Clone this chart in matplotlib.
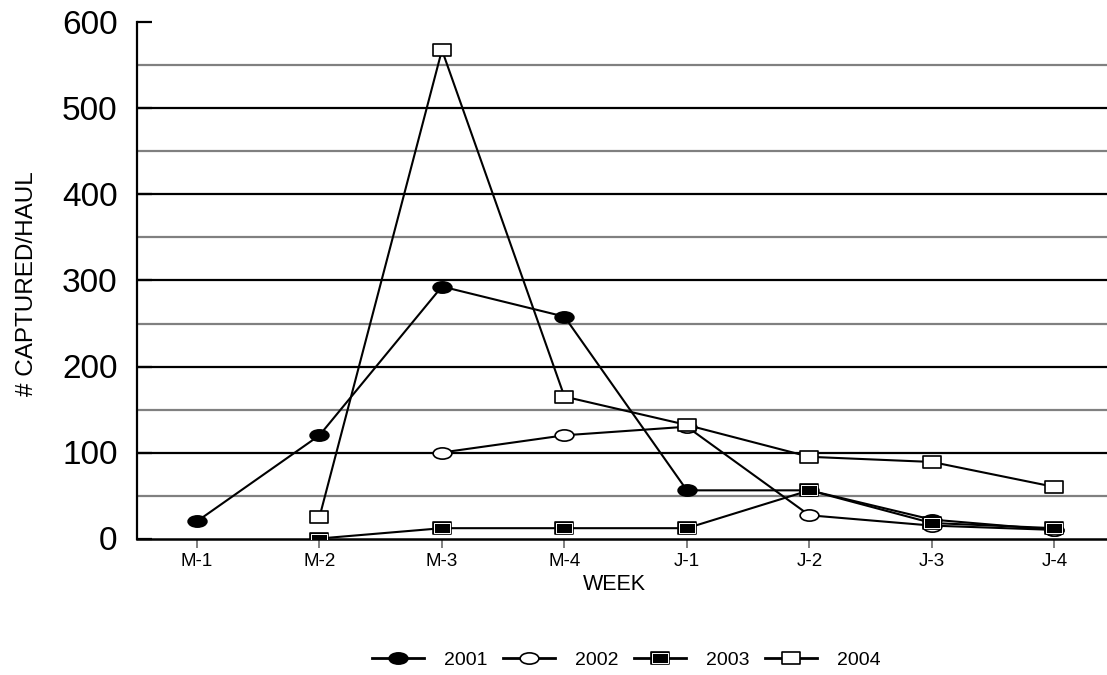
import matplotlib
matplotlib.use("Agg")
import matplotlib.pyplot as plt
import numpy as np
from matplotlib.path import Path
from matplotlib.transforms import Affine2D
from matplotlib.legend_handler import HandlerTuple

plt.rcParams['font.family'] = ['Liberation Sans', 'DejaVu Sans']

weeks = ["M-1", "M-2", "M-3", "M-4", "J-1", "J-2", "J-3", "J-4"]
y2001 = [20, 120, 293, 258, 56, 56, 22, 10]
y2002 = [np.nan, np.nan, 100, 120, 130, 27, 15, 10]
y2003 = [np.nan, 0, 12, 12, 12, 56, 18, 12]
y2004 = [np.nan, 25, 568, 165, 132, 95, 89, 60]

# wide ellipse and wide rectangle marker shapes
ellipse = Path.unit_circle().transformed(Affine2D().scale(1.0, 0.6))
rect = Path([(-1, -0.6), (1, -0.6), (1, 0.6), (-1, 0.6), (-1, -0.6)],
            [Path.MOVETO, Path.LINETO, Path.LINETO, Path.LINETO, Path.CLOSEPOLY])

fig = plt.figure(figsize=(11.07, 6.75), dpi=100)
ax = fig.add_axes([137/1107, 136.5/675, 1 - 137/1107, 516/675])

x = np.arange(len(weeks))

# grid lines
for v in [50, 150, 250, 350, 450, 550]:
    ax.axhline(v, color='#808080', lw=1.6, zorder=1)
for v in [100, 200, 300, 400, 500]:
    ax.axhline(v, color='black', lw=1.6, zorder=1)

lw = 1.5
ms = 13.5
h1, = ax.plot(x, y2001, color='black', lw=lw, marker=ellipse, ms=ms,
              mfc='black', mec='black', mew=1.2, zorder=3)
h2, = ax.plot(x, y2002, color='black', lw=lw, marker=ellipse, ms=ms,
              mfc='white', mec='black', mew=1.2, zorder=3)
h3, = ax.plot(x, y2003, color='black', lw=lw, marker=rect, ms=ms,
              mfc='black', mec='black', mew=1.2, zorder=3)
h3b, = ax.plot(x, y2003, color='none', lw=0, marker=rect, ms=ms - 2.2,
               mfc='none', mec='white', mew=0.7, zorder=4)
h4, = ax.plot(x, y2004, color='black', lw=lw, marker=rect, ms=ms,
              mfc='white', mec='black', mew=1.2, zorder=3)

ax.set_xlim(-0.49, 7.43)
ax.set_ylim(0, 600)
ax.set_xticks(x)
ax.set_xticklabels(weeks)
ax.set_yticks([0, 100, 200, 300, 400, 500, 600])
ax.tick_params(axis='y', direction='in', length=10.5, width=1.6, color='black',
               labelsize=24, pad=14)
ax.tick_params(axis='x', direction='out', length=6.5, width=1.4, color='#808080',
               labelsize=13.5, pad=4)

for s in ['top', 'right']:
    ax.spines[s].set_visible(False)
ax.spines['left'].set_linewidth(1.6)
ax.spines['bottom'].set_linewidth(1.8)
ax.spines['left'].set_zorder(5)
ax.spines['bottom'].set_zorder(2)

ax.set_xlabel("WEEK", fontsize=15.5)
ax.xaxis.set_label_coords((614 - 137) / (1107 - 137), -36 / 516)
ax.set_ylabel("# CAPTURED/HAUL", fontsize=17.5)
ax.yaxis.set_label_coords(-(137 - 38) / (1107 - 137), (539 - 284) / 516)

leg = fig.legend([h1, h2, (h3, h3b), h4], ["2001", "2002", "2003", "2004"],
                 loc='center', bbox_to_anchor=(626 / 1107, 1 - 660 / 675),
                 ncol=4, frameon=False, fontsize=14, handlelength=2.7,
                 handletextpad=1.0, columnspacing=0.8,
                 handler_map={tuple: HandlerTuple(ndivide=1, pad=0)})
for ln in leg.get_lines():
    if ln.get_linewidth() > 0:
        ln.set_linewidth(2.0)

fig.savefig("out.png", dpi=100)
